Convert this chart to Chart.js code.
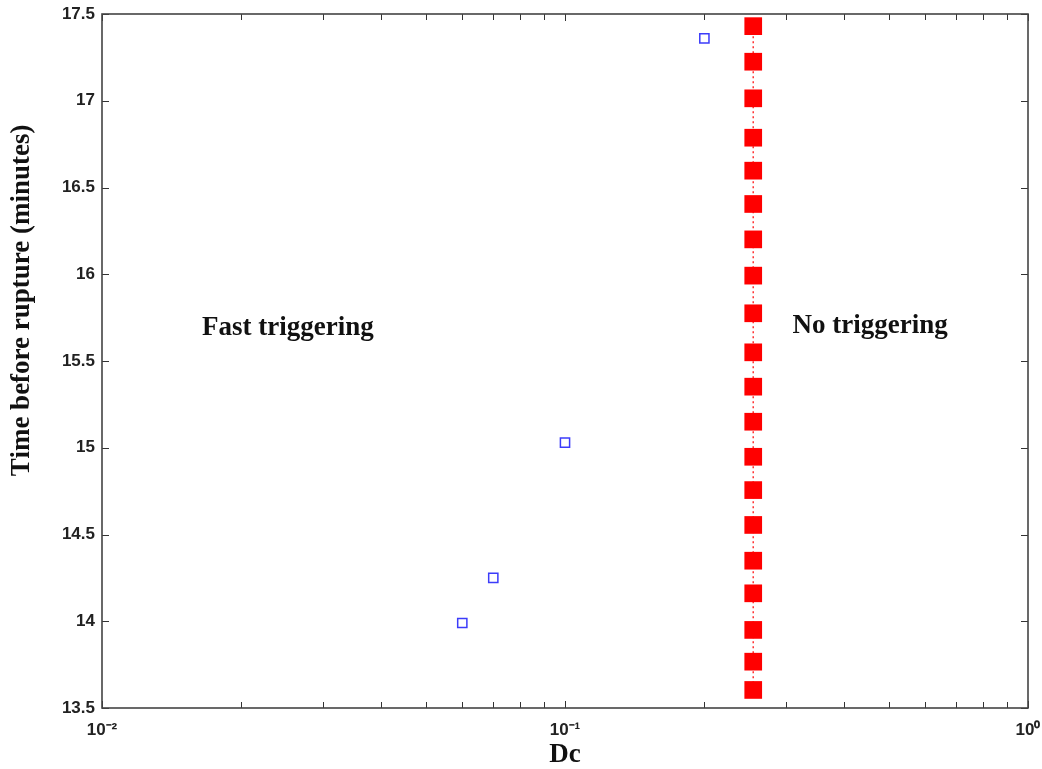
<!DOCTYPE html>
<html>
<head>
<meta charset="utf-8">
<script src="https://cdn.jsdelivr.net/npm/chart.js@4/dist/chart.umd.min.js"></script>
<style>
  html, body { margin: 0; padding: 0; background: #fff; }
  #c { display: block; }
</style>
</head>
<body>
<canvas id="c" width="1042" height="769"></canvas>
<script>
// ---- data ----
const fastDc = [0.06, 0.07, 0.1, 0.2];
const fastTime = [13.99, 14.25, 15.03, 17.36];

const noTrigDc = 0.255;
const noTrigTime = [17.43, 17.225, 17.014, 16.787, 16.597, 16.405, 16.201, 15.992, 15.775, 15.55,
                    15.352, 15.15, 14.948, 14.756, 14.555, 14.349, 14.161, 13.95, 13.767, 13.604];

const yTicks = [13.5, 14, 14.5, 15, 15.5, 16, 16.5, 17, 17.5];
const xMajorTicks = [0.01, 0.1, 1];
const xTickLabels = ['10\u207B\u00B2', '10\u207B\u00B9', '10\u2070'];
const xMinorTicks = [0.02, 0.03, 0.04, 0.05, 0.06, 0.07, 0.08, 0.09, 0.2, 0.3, 0.4, 0.5, 0.6, 0.7, 0.8, 0.9];

const yTitle = 'Time before rupture (minutes)';
const yTitleCenter = 15.85; // along the axis, in data units

const noteTexts = ['Fast triggering', 'No triggering'];
const noteDc = [0.0252, 0.456];
const noteTime = [15.65, 15.66];

// ---- plugin: MATLAB-style frame, inward ticks, text notes ----
const framePlugin = {
  id: 'frame',
  beforeDatasetsDraw(chart) {
    const {ctx, chartArea: a, scales: {x, y}} = chart;
    ctx.save();
    ctx.strokeStyle = '#333';
    ctx.lineWidth = 1;
    const maj = 7, mnr = 6;
    yTicks.forEach(v => {
      const py = Math.round(y.getPixelForValue(v)) + 0.5;
      ctx.beginPath();
      ctx.moveTo(a.left, py); ctx.lineTo(a.left + maj, py);
      ctx.moveTo(a.right, py); ctx.lineTo(a.right - maj, py);
      ctx.stroke();
    });
    xMajorTicks.concat(xMinorTicks).forEach(v => {
      const len = xMajorTicks.includes(v) ? maj : mnr;
      const px = Math.round(x.getPixelForValue(v)) + 0.5;
      ctx.beginPath();
      ctx.moveTo(px, a.bottom); ctx.lineTo(px, a.bottom - len);
      ctx.moveTo(px, a.top); ctx.lineTo(px, a.top + len);
      ctx.stroke();
    });
    ctx.restore();
  },
  afterDatasetsDraw(chart) {
    const {ctx, chartArea: a, scales: {x, y}} = chart;
    ctx.save();
    ctx.strokeStyle = '#444';
    ctx.lineWidth = 1.6;
    ctx.strokeRect(a.left, a.top, a.right - a.left, a.bottom - a.top);
    ctx.fillStyle = '#111';
    ctx.font = 'bold 27px "Liberation Serif", "Times New Roman", serif';
    ctx.textAlign = 'center';
    ctx.textBaseline = 'alphabetic';
    noteTexts.forEach((t, i) => {
      ctx.fillText(t, x.getPixelForValue(noteDc[i]), y.getPixelForValue(noteTime[i]));
    });
    // y axis title
    ctx.translate(22, y.getPixelForValue(yTitleCenter));
    ctx.rotate(-Math.PI / 2);
    ctx.textBaseline = 'middle';
    ctx.fillText(yTitle, 0, 0);
    ctx.restore();
  }
};

const tickFont = {family: '"Liberation Sans", Arial, sans-serif', size: 17, weight: 'bold'};
const titleFont = {family: '"Liberation Serif", "Times New Roman", serif', size: 27, weight: 'bold', lineHeight: 1};

new Chart(document.getElementById('c'), {
  type: 'scatter',
  data: {
    datasets: [
      {
        label: 'Fast triggering',
        data: fastDc.map((d, i) => ({x: d, y: fastTime[i]})),
        pointStyle: 'rect',
        pointRadius: 6.5,
        borderColor: 'rgb(60,60,250)',
        backgroundColor: 'rgba(255,255,255,0)',
        borderWidth: 1.5,
        showLine: false
      },
      {
        label: 'No triggering',
        data: noTrigTime.map(t => ({x: noTrigDc, y: t})),
        pointStyle: 'rect',
        pointRadius: 12.5,
        pointBorderWidth: 0,
        pointBackgroundColor: '#ff0000',
        pointBorderColor: '#ff0000',
        showLine: true,
        borderColor: 'rgba(255,50,50,1)',
        borderWidth: 1.5,
        borderDash: [2, 3]
      }
    ]
  },
  options: {
    responsive: false,
    animation: false,
    devicePixelRatio: 1,
    layout: {padding: {left: 0, top: 14, right: 14, bottom: 0}},
    plugins: {legend: {display: false}, tooltip: {enabled: false}},
    scales: {
      x: {
        type: 'logarithmic',
        min: 0.01,
        max: 1,
        afterBuildTicks(scale) { scale.ticks = xMajorTicks.map(v => ({value: v})); },
        afterFit(scale) { scale.height = 61; scale.paddingLeft = 0; scale.paddingRight = 0; },
        grid: {display: false, drawTicks: false},
        border: {display: false},
        ticks: {
          font: tickFont,
          color: '#222',
          padding: 12,
          maxRotation: 0,
          autoSkip: false,
          callback(v) {
            const i = xMajorTicks.findIndex(t => Math.abs(t - v) < 1e-9);
            return i >= 0 ? xTickLabels[i] : '';
          }
        },
        title: {display: true, text: 'Dc', font: titleFont, color: '#111', padding: {top: 0, bottom: 0}}
      },
      y: {
        type: 'linear',
        min: 13.5,
        max: 17.5,
        afterBuildTicks(scale) { scale.ticks = yTicks.map(v => ({value: v})); },
        afterFit(scale) { scale.width = 102; scale.paddingTop = 0; scale.paddingBottom = 0; },
        grid: {display: false, drawTicks: false},
        border: {display: false},
        ticks: {
          font: tickFont,
          color: '#222',
          padding: 7,
          autoSkip: false,
          callback(v) { return String(v); }
        },
        title: {display: false, text: yTitle}
      }
    }
  },
  plugins: [framePlugin]
});
</script>
</body>
</html>
